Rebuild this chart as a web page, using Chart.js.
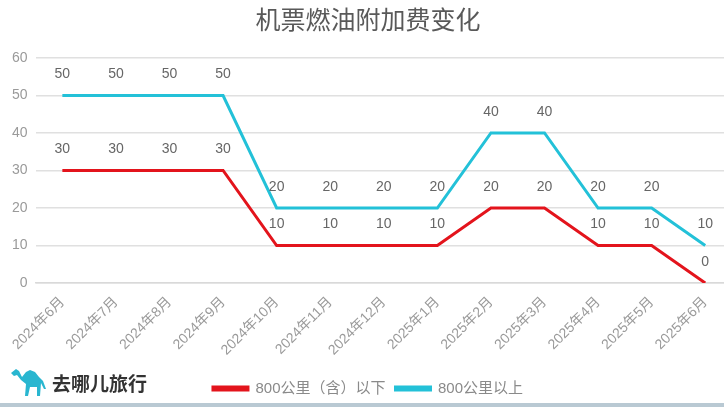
<!DOCTYPE html>
<html>
<head>
<meta charset="utf-8">
<script src="https://cdn.jsdelivr.net/npm/chart.js@4.4.1/dist/chart.umd.min.js"></script>
<style>
  html, body { margin: 0; padding: 0; background: #fff; overflow: hidden; }
  #wrap { position: relative; width: 734px; height: 407px; }
  #logo { position: absolute; left: 10px; top: 366px; display: flex; align-items: center;
          font-family: "Noto Sans CJK SC", sans-serif; font-weight: bold; font-size: 19px; color: #333; }
  #logo svg { margin-right: 4px; }
  #strip { position: absolute; left: 0; top: 403px; width: 724px; height: 4px; background: #b9c9d3; }
</style>
</head>
<body>
<div id="wrap">
  <canvas id="chart" width="734" height="407"></canvas>
  <div id="logo">
    <svg width="38" height="32" viewBox="0 0 38 32">
      <path d="M1 7 L6 3 L9 5 L12 11 L16 6 L20 4 L25 6 L29 11 L33 15 L36 23 L34 23 L31 17 L30 30 L27 30 L27 21 L20 21 L18 30 L15 30 L16 18 L11 14 L7 9 L4 10 Z" fill="#29b6d0"/>
    </svg>
    去哪儿旅行
  </div>
  <div id="strip"></div>
</div>
<script>
// 月份
var months = ["2024年6月", "2024年7月", "2024年8月", "2024年9月", "2024年10月", "2024年11月", "2024年12月",
              "2025年1月", "2025年2月", "2025年3月", "2025年4月", "2025年5月", "2025年6月"];
// 800公里（含）以下
var shortHaul = [30, 30, 30, 30, 10, 10, 10, 10, 20, 20, 10, 10, 0];
// 800公里以上
var longHaul = [50, 50, 50, 50, 20, 20, 20, 20, 40, 40, 20, 20, 10];

var FONT = '"Liberation Sans", "Noto Sans CJK SC", sans-serif';

// draws the value above every point
var valueLabels = {
  id: "valueLabels",
  afterDatasetsDraw: function (chart) {
    var ctx = chart.ctx;
    ctx.save();
    ctx.font = "14px " + FONT;
    ctx.fillStyle = "#666666";
    ctx.textAlign = "center";
    ctx.textBaseline = "middle";
    chart.data.datasets.forEach(function (ds, i) {
      chart.getDatasetMeta(i).data.forEach(function (pt, j) {
        ctx.fillText(ds.data[j], pt.x, pt.y - 21);
      });
    });
    ctx.restore();
  }
};

new Chart(document.getElementById("chart"), {
  type: "line",
  data: {
    labels: months,
    datasets: [
      {
        label: "800公里（含）以下",
        data: shortHaul,
        borderColor: "#e3141c",
        backgroundColor: "#e3141c",
        borderWidth: 3,
        pointRadius: 0,
        tension: 0
      },
      {
        label: "800公里以上",
        data: longHaul,
        borderColor: "#23c1d8",
        backgroundColor: "#23c1d8",
        borderWidth: 3,
        pointRadius: 0,
        tension: 0
      }
    ]
  },
  options: {
    responsive: false,
    animation: false,
    layout: { padding: { left: 4, right: 2, bottom: 1 } },
    plugins: {
      title: {
        display: true,
        text: "机票燃油附加费变化",
        color: "#595959",
        font: { family: '"Noto Sans CJK SC", sans-serif', size: 25, weight: "normal" },
        padding: { top: 4, bottom: 24 }
      },
      legend: {
        position: "bottom",
        labels: {
          boxWidth: 35,
          boxHeight: 3,
          color: "#8a8a8a",
          padding: 10,
          font: { family: FONT, size: 15 }
        }
      },
      tooltip: { enabled: false }
    },
    scales: {
      x: {
        offset: true,
        grid: { display: false },
        border: { color: "#d9d9d9", width: 1.5 },
        ticks: {
          color: "#9a9a9a",
          font: { family: FONT, size: 14 },
          minRotation: 45,
          maxRotation: 45
        },
        afterFit: function (scale) { scale.height = 88; }
      },
      y: {
        min: 0,
        max: 60,
        ticks: { stepSize: 10, color: "#9a9a9a", font: { family: FONT, size: 14 }, padding: 8 },
        grid: { color: "#e0e0e0", lineWidth: 1.5, drawTicks: false },
        border: { display: false }
      }
    }
  },
  plugins: [valueLabels]
});
</script>
</body>
</html>
